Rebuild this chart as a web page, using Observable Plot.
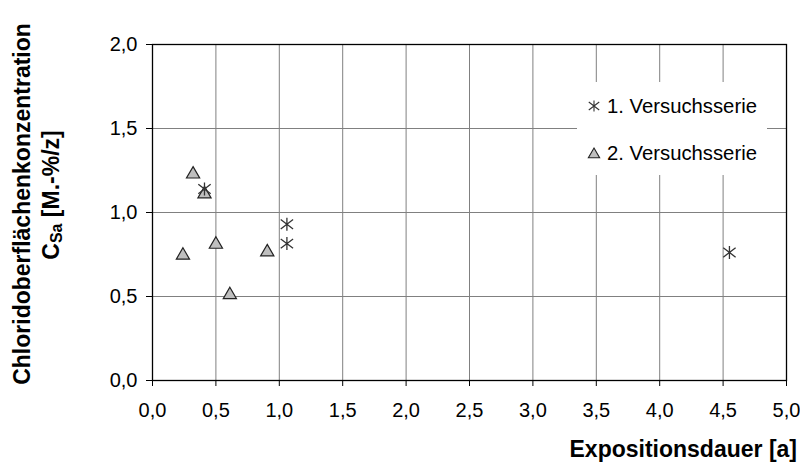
<!DOCTYPE html>
<html>
<head>
<meta charset="utf-8">
<script src="https://cdn.jsdelivr.net/npm/d3@7"></script>
<script src="https://cdn.jsdelivr.net/npm/@observablehq/plot@0.6"></script>
<style>
  html, body { margin: 0; padding: 0; background: #fff; }
  #chart { position: relative; width: 800px; height: 464px; }
</style>
</head>
<body>
<div id="chart"></div>
<script>
// Chloride surface concentration vs. exposure duration, two test series
const seriesNames = ["1. Versuchsserie", "2. Versuchsserie"];

// 1. Versuchsserie (star markers)
const series1X = [0.41, 1.06, 1.06, 4.55];
const series1Y = [1.14, 0.93, 0.815, 0.762];

// 2. Versuchsserie (grey triangles)
const series2X = [0.24, 0.32, 0.41, 0.50, 0.61, 0.905];
const series2Y = [0.745, 1.228, 1.11, 0.81, 0.51, 0.765];

const xTicks = [0, 0.5, 1, 1.5, 2, 2.5, 3, 3.5, 4, 4.5, 5];
const yTicks = [0, 0.5, 1, 1.5, 2];

const xTitle = "Expositionsdauer [a]";
const yTitle1 = "Chloridoberflächenkonzentration";
const yTitle2 = ["C", "Sa", " [M.-%/z]"];

const series1 = series1X.map((x, i) => ({x, y: series1Y[i]}));
const series2 = series2X.map((x, i) => ({x, y: series2Y[i]}));

const fmt = d => d.toFixed(1).replace(".", ",");
const font = "'Liberation Sans', Arial, Helvetica, sans-serif";

// Six-armed star: a vertical stroke crossed by a wide X
const star = {
  draw(context, size) {
    const r = Math.sqrt(size / Math.PI);
    const w = r * 0.95, h = r * 0.72;
    context.moveTo(0, -r); context.lineTo(0, r);
    context.moveTo(-w, -h); context.lineTo(w, h);
    context.moveTo(-w, h); context.lineTo(w, -h);
  }
};

const chart = Plot.plot({
  width: 800,
  height: 464,
  marginLeft: 152,
  marginRight: 14,
  marginTop: 44,
  marginBottom: 84,
  style: {fontFamily: font, fontSize: "20px", color: "#000", background: "#fff", overflow: "visible"},
  x: {domain: [0, 5]},
  y: {domain: [0, 2]},
  marks: [
    Plot.gridX(xTicks, {stroke: "#808080", strokeOpacity: 1, strokeWidth: 1}),
    Plot.gridY(yTicks, {stroke: "#808080", strokeOpacity: 1, strokeWidth: 1}),
    Plot.frame({stroke: "#000", strokeWidth: 1.3}),
    Plot.axisX(xTicks, {tickSize: 6, tickPadding: 16, tickFormat: fmt, label: null, fontSize: 20, stroke: "#000"}),
    Plot.axisY(yTicks, {tickSize: 6, tickPadding: 9, tickFormat: fmt, label: null, fontSize: 20, stroke: "#000"}),
    Plot.dot(series2, {x: "x", y: "y", symbol: "triangle", r: 4.9, fill: "#bfbfbf", stroke: "#222", strokeWidth: 1.2}),
    Plot.dot(series1, {x: "x", y: "y", symbol: star, r: 6.5, fill: "none", stroke: "#333", strokeWidth: 1.3})
  ]
});

document.getElementById("chart").appendChild(chart);

const svg = d3.select(chart);

// Axis titles
svg.append("text")
  .attr("x", 797).attr("y", 449)
  .attr("text-anchor", "end").attr("dominant-baseline", "central")
  .attr("font-family", font).attr("font-weight", "bold").attr("font-size", 23)
  .attr("fill", "#000")
  .text(xTitle);

svg.append("text")
  .attr("transform", "translate(22,204) rotate(-90)")
  .attr("text-anchor", "middle").attr("dominant-baseline", "central")
  .attr("font-family", font).attr("font-weight", "bold").attr("font-size", 23)
  .attr("fill", "#000")
  .text(yTitle1);

const t2 = svg.append("text")
  .attr("transform", "translate(51,195) rotate(-90)")
  .attr("text-anchor", "middle").attr("dominant-baseline", "central")
  .attr("font-family", font).attr("font-weight", "bold").attr("font-size", 23)
  .attr("fill", "#000");
t2.append("tspan").text(yTitle2[0]);
t2.append("tspan").attr("font-size", 16).attr("dy", 5).text(yTitle2[1]);
t2.append("tspan").attr("dy", -5).text(yTitle2[2]);

// Legend box inside the plot area (covers the grid behind it)
const legend = svg.append("g").attr("transform", "translate(577,82)");
legend.append("rect").attr("width", 190).attr("height", 93).attr("fill", "#fff");
const legendRows = [
  {name: seriesNames[0], symbol: star, size: Math.PI * 5.5 * 5.5, fill: "none", stroke: "#333", dy: 0},
  {name: seriesNames[1], symbol: d3.symbolTriangle, size: 55, fill: "#bfbfbf", stroke: "#222", dy: 1.5}
];
legendRows.forEach((row, i) => {
  const g = legend.append("g").attr("transform", `translate(17,${24 + i * 47})`);
  g.append("path")
    .attr("transform", `translate(0,${row.dy})`)
    .attr("d", d3.symbol(row.symbol, row.size)())
    .attr("fill", row.fill).attr("stroke", row.stroke).attr("stroke-width", 1.1);
  g.append("text")
    .attr("x", 13).attr("text-anchor", "start").attr("dominant-baseline", "central")
    .attr("font-family", font).attr("font-size", 20.3).attr("fill", "#000")
    .text(row.name);
});
</script>
</body>
</html>
